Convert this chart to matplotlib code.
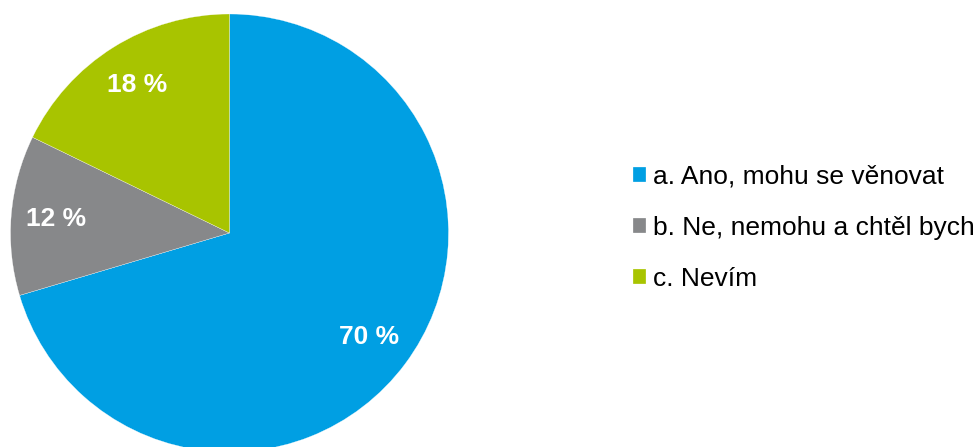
import matplotlib
matplotlib.use('Agg')
import matplotlib.pyplot as plt

labels = ['a. Ano, mohu se věnovat', 'b. Ne, nemohu a chtěl bych', 'c. Nevím']
values = [70.4, 11.8, 17.8]
colors = ['#009FE3', '#87888A', '#A8C400']

plt.rcParams['font.family'] = ['Liberation Sans', 'DejaVu Sans']

fig = plt.figure(figsize=(9.79, 4.47), dpi=100)
# pie centre at (229.5, 233) px from top-left, radius ~219 px
r = 219
cx, cy = 229.5, 233
ax = fig.add_axes([(cx - r) / 979, (447 - cy - r) / 447, 2 * r / 979, 2 * r / 447])
wedges, texts, autotexts = ax.pie(
    values, colors=colors, startangle=90, counterclock=False,
    autopct=lambda p: f'{p:.0f} %', pctdistance=0.795, radius=1,
    wedgeprops=dict(edgecolor='white', linewidth=0.2),
    textprops=dict(color='white', fontsize=19, fontweight='bold'))
ax.set_xlim(-1, 1)
ax.set_ylim(-1, 1)
ax.set_aspect('equal')
ax.axis('off')

fig.legend(wedges, labels, loc='center left', bbox_to_anchor=(633 / 979, (447 - 228) / 447),
           frameon=False, fontsize=19, handlelength=0.5, handleheight=0.5,
           handletextpad=0.25, labelspacing=1.03, borderpad=0, borderaxespad=0)

fig.savefig('out.png', dpi=100)
